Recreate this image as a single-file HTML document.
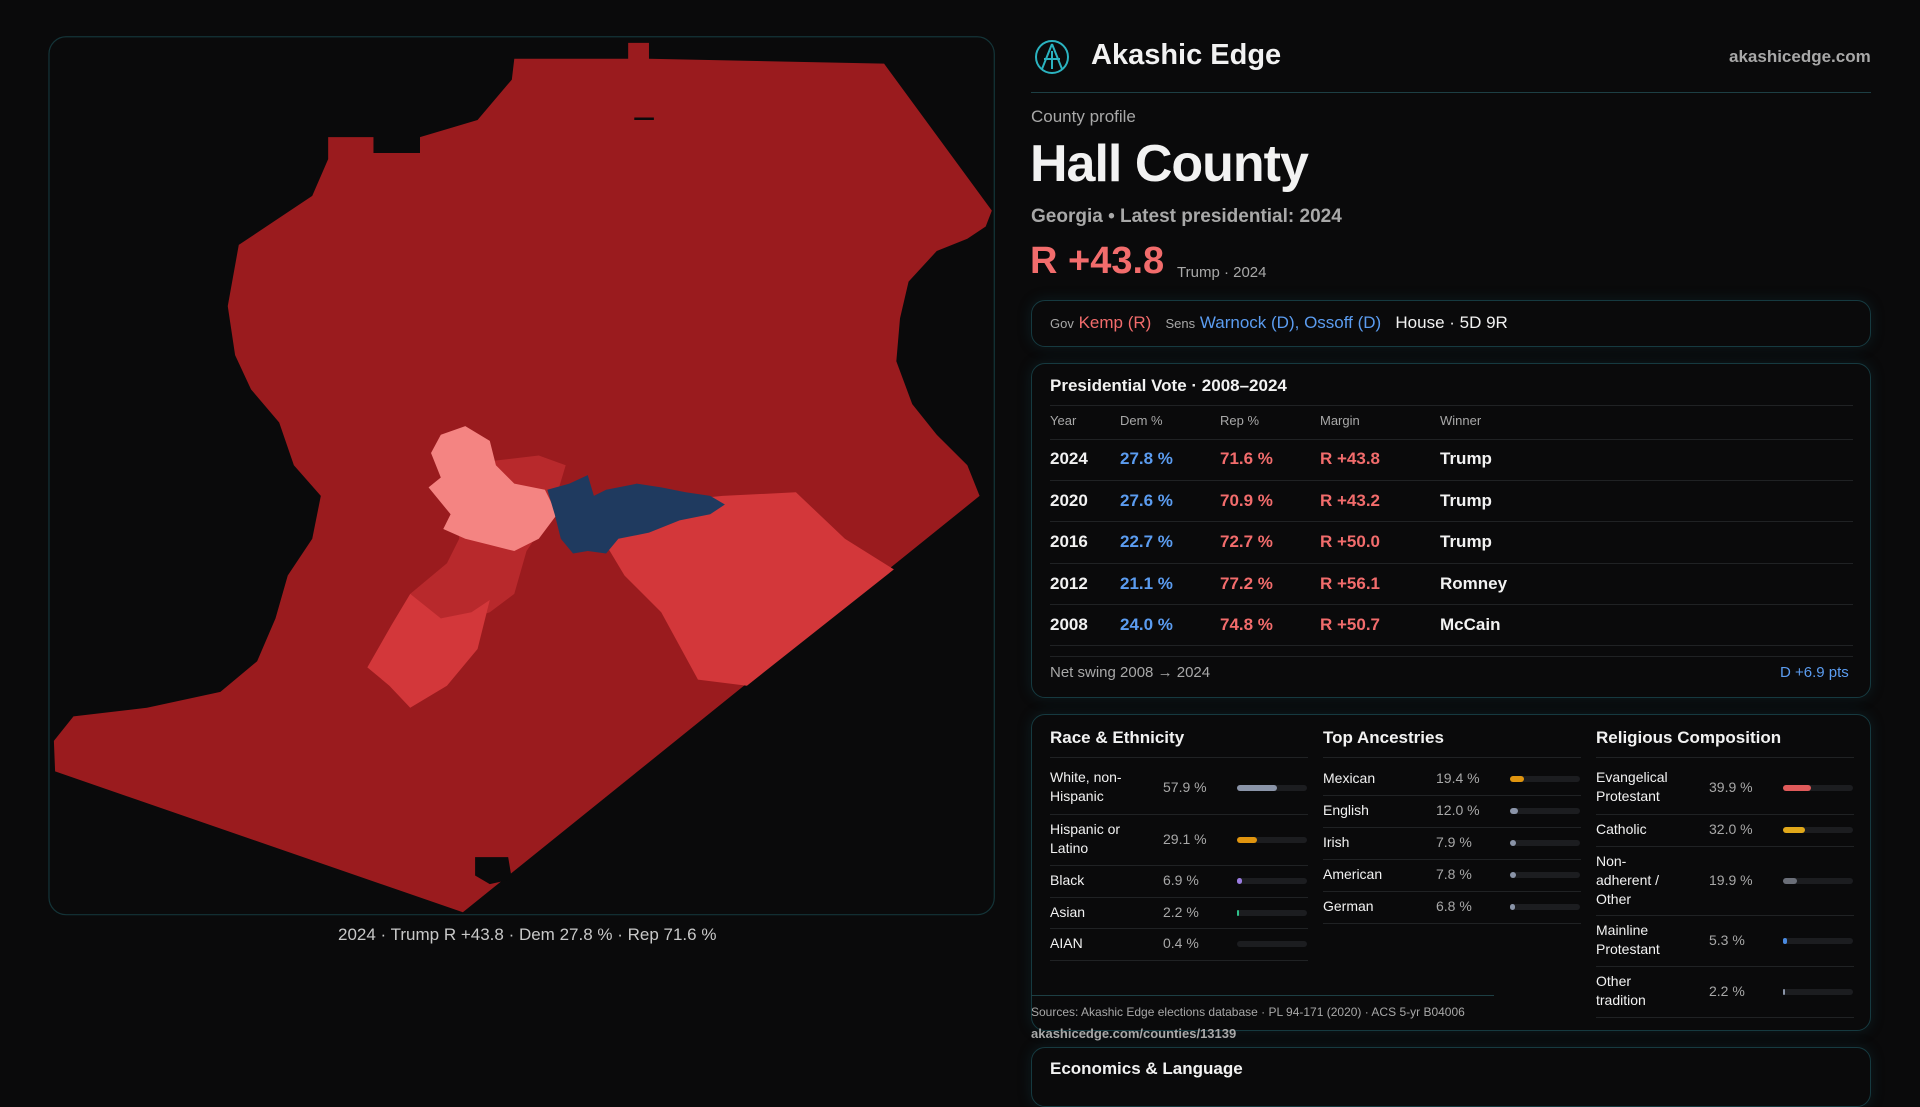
<!DOCTYPE html>
<html><head><meta charset="utf-8"><style>
*{margin:0;padding:0;box-sizing:border-box}
body{width:1920px;height:1080px;background:#0a0a0b;font-family:"Liberation Sans",sans-serif;color:#f2f2f2;position:relative;overflow:hidden}
.a{position:absolute;white-space:nowrap}
.box{position:absolute;border:1px solid #163a40;border-radius:14px;background:#0a0a0b;box-shadow:0 0 14px rgba(20,80,90,0.25)}
.mut{color:#a8a8a8}
.blue{color:#5b9cf0}.red{color:#f26c6c}
.hl{position:absolute;height:1px;background:#202224}
.bar{position:absolute;height:6px;border-radius:3px;background:#1c1d20;width:70px}
.bar i{position:absolute;left:0;top:0;height:6px;border-radius:3px}
</style></head><body>
<svg class="a" style="left:0;top:0" width="1920" height="1080" viewBox="0 0 1568 882">
<rect x="40" y="30" width="772" height="717" rx="14" fill="#0a0a0b" stroke="#143438"/>
<path fill="#9a1b1e" d="M420,48 L513,48 L513,35 L530,35 L530,48 L722,52 L810,172 L805,185 L790,195 L765,205 L742,230 L735,260 L732,295 L745,330 L765,355 L790,380 L800,405 L378,745 L45,630 L44,605 L60,585 L120,578 L180,565 L210,540 L225,505 L235,470 L255,440 L262,405 L240,380 L228,345 L205,318 L192,290 L186,250 L195,200 L225,180 L255,160 L268,130 L268,112 L305,112 L305,125 L343,125 L343,112 L390,98 L418,65 Z"/>
<path fill="#d3373a" d="M495,410 L560,408 L590,405 L650,402 L690,440 L730,465 L610,560 L570,555 L540,500 L510,470 L495,445 Z"/>
<path fill="#b8292c" d="M372,380 L440,372 L462,380 L450,420 L430,450 L420,485 L400,500 L385,505 L345,505 L335,485 L365,460 L375,440 Z"/>
<path fill="#d3373a" d="M335,485 L360,505 L385,500 L400,490 L390,530 L365,560 L335,578 L318,560 L300,545 L320,510 Z"/>
<path fill="#f48482" d="M380,348 L400,360 L405,380 L420,395 L445,400 L455,420 L440,440 L420,450 L400,445 L380,440 L362,432 L368,420 L350,398 L360,390 L352,370 L360,355 Z"/>
<path fill="#1f3a5f" d="M447,400 L465,395 L480,388 L485,405 L495,400 L520,395 L540,398 L560,402 L580,405 L592,412 L580,420 L555,425 L530,435 L505,440 L495,452 L480,450 L468,452 L458,440 L453,420 Z"/>
<path fill="#0a0a0b" d="M388,700 L415,700 L418,718 L400,722 L388,715 Z M518,96 L534,96 L534,98 L518,98 Z"/>
</svg>
<div class="a mut" style="left:338px;top:925px;font-size:17px;color:#c8c8c8">2024 · Trump R +43.8 · Dem 27.8 % · Rep 71.6 %</div>

<svg class="a" style="left:1034px;top:39px" width="36" height="36" viewBox="0 0 36 36"><circle cx="18" cy="18" r="16" fill="none" stroke="#2bb3c0" stroke-width="2"/><path d="M18 5 L8 30 M18 5 L28 30 M10 20 L26 20 M18 12 L18 30" stroke="#2bb3c0" stroke-width="2" fill="none"/></svg>
<div class="a" style="left:1091px;top:39px;font-size:29px;font-weight:bold">Akashic Edge</div>
<div class="a mut" style="left:1729px;top:47px;font-size:17px;font-weight:bold">akashicedge.com</div>
<div class="a" style="left:1031px;top:92px;width:840px;height:1px;background:#1d3f44"></div>
<div class="a mut" style="left:1031px;top:107px;font-size:17px">County profile</div>
<div class="a" style="left:1030px;top:134px;font-size:52px;font-weight:bold;letter-spacing:-1px">Hall County</div>
<div class="a mut" style="left:1031px;top:206px;font-size:19px;font-weight:bold">Georgia • Latest presidential: 2024</div>
<div class="a red" style="left:1030px;top:240px;font-size:38px;font-weight:bold">R +43.8</div>
<div class="a mut" style="left:1177px;top:264px;font-size:15px">Trump · 2024</div>

<div class="box" style="left:1031px;top:300px;width:840px;height:47px"></div>
<div class="a" style="left:1050px;top:313px;font-size:17px"><span class="mut" style="font-size:13px">Gov</span> <span class="red">Kemp (R)</span> &nbsp; <span class="mut" style="font-size:13px">Sens</span> <span class="blue">Warnock (D), Ossoff (D)</span> &nbsp; <span>House · 5D 9R</span></div>

<div class="box" style="left:1031px;top:363px;width:840px;height:335px"></div>
<div class="a" style="left:1050px;top:376px;font-size:17px;font-weight:bold">Presidential Vote · 2008–2024</div>
<div class="hl" style="left:1050px;top:405px;width:803px"></div>
<div class="a mut" style="left:1050px;top:413px;font-size:13px">Year</div>
<div class="a mut" style="left:1120px;top:413px;font-size:13px">Dem %</div>
<div class="a mut" style="left:1220px;top:413px;font-size:13px">Rep %</div>
<div class="a mut" style="left:1320px;top:413px;font-size:13px">Margin</div>
<div class="a mut" style="left:1440px;top:413px;font-size:13px">Winner</div>
<div class="hl" style="left:1050px;top:439px;width:803px"></div>
<div class="a" style="left:1050px;top:448px;font-size:17px;line-height:22px">
<div style="position:absolute;top:0"><b style="position:absolute;left:0">2024</b><b class="blue" style="position:absolute;left:70px">27.8 %</b><b class="red" style="position:absolute;left:170px">71.6 %</b><b class="red" style="position:absolute;left:270px">R +43.8</b><b style="position:absolute;left:390px">Trump</b></div>
<div style="position:absolute;top:42px"><b style="position:absolute;left:0">2020</b><b class="blue" style="position:absolute;left:70px">27.6 %</b><b class="red" style="position:absolute;left:170px">70.9 %</b><b class="red" style="position:absolute;left:270px">R +43.2</b><b style="position:absolute;left:390px">Trump</b></div>
<div style="position:absolute;top:83px"><b style="position:absolute;left:0">2016</b><b class="blue" style="position:absolute;left:70px">22.7 %</b><b class="red" style="position:absolute;left:170px">72.7 %</b><b class="red" style="position:absolute;left:270px">R +50.0</b><b style="position:absolute;left:390px">Trump</b></div>
<div style="position:absolute;top:125px"><b style="position:absolute;left:0">2012</b><b class="blue" style="position:absolute;left:70px">21.1 %</b><b class="red" style="position:absolute;left:170px">77.2 %</b><b class="red" style="position:absolute;left:270px">R +56.1</b><b style="position:absolute;left:390px">Romney</b></div>
<div style="position:absolute;top:166px"><b style="position:absolute;left:0">2008</b><b class="blue" style="position:absolute;left:70px">24.0 %</b><b class="red" style="position:absolute;left:170px">74.8 %</b><b class="red" style="position:absolute;left:270px">R +50.7</b><b style="position:absolute;left:390px">McCain</b></div>
</div>
<div class="hl" style="left:1050px;top:480px;width:803px"></div>
<div class="hl" style="left:1050px;top:521px;width:803px"></div>
<div class="hl" style="left:1050px;top:563px;width:803px"></div>
<div class="hl" style="left:1050px;top:604px;width:803px"></div>
<div class="hl" style="left:1050px;top:645px;width:803px"></div>
<div class="hl" style="left:1050px;top:656px;width:803px"></div>
<div class="a mut" style="left:1050px;top:664px;font-size:15px">Net swing 2008 → 2024</div>
<div class="a blue" style="left:1780px;top:664px;font-size:15px">D +6.9 pts</div>

<div class="box" style="left:1031px;top:714px;width:840px;height:317px"></div>
<div class="box" style="left:1031px;top:1047px;width:840px;height:60px"></div>
<div class="a" style="left:1050px;top:1059px;font-size:17px;font-weight:bold">Economics &amp; Language</div>

<div class="a" style="left:1050px;top:728px;font-size:17px;font-weight:bold">Race &amp; Ethnicity</div>
<div class="a" style="left:1323px;top:728px;font-size:17px;font-weight:bold">Top Ancestries</div>
<div class="a" style="left:1596px;top:728px;font-size:17px;font-weight:bold">Religious Composition</div>
<div class="hl" style="left:1050px;top:757px;width:258px"></div>
<div class="hl" style="left:1323px;top:757px;width:258px"></div>
<div class="hl" style="left:1596px;top:757px;width:258px"></div>

<div style="position:absolute;left:0;top:0;font-size:14px;line-height:19px">
<div class="a" style="left:1050px;top:768px">White, non-<br>Hispanic</div><div class="a mut" style="left:1163px;top:778px">57.9 %</div><div class="bar" style="left:1237px;top:785px"><i style="width:40px;background:#8a94a8"></i></div>
<div class="hl" style="left:1050px;top:814px;width:258px"></div>
<div class="a" style="left:1050px;top:820px">Hispanic or<br>Latino</div><div class="a mut" style="left:1163px;top:830px">29.1 %</div><div class="bar" style="left:1237px;top:837px"><i style="width:20px;background:#e0950f"></i></div>
<div class="hl" style="left:1050px;top:865px;width:258px"></div>
<div class="a" style="left:1050px;top:871px">Black</div><div class="a mut" style="left:1163px;top:871px">6.9 %</div><div class="bar" style="left:1237px;top:878px"><i style="width:5px;background:#9a7ce0"></i></div>
<div class="hl" style="left:1050px;top:897px;width:258px"></div>
<div class="a" style="left:1050px;top:903px">Asian</div><div class="a mut" style="left:1163px;top:903px">2.2 %</div><div class="bar" style="left:1237px;top:910px"><i style="width:2px;background:#2fc08a"></i></div>
<div class="hl" style="left:1050px;top:928px;width:258px"></div>
<div class="a" style="left:1050px;top:934px">AIAN</div><div class="a mut" style="left:1163px;top:934px">0.4 %</div><div class="bar" style="left:1237px;top:941px"></div>
<div class="hl" style="left:1050px;top:960px;width:258px"></div>

<div class="a" style="left:1323px;top:769px">Mexican</div><div class="a mut" style="left:1436px;top:769px">19.4 %</div><div class="bar" style="left:1510px;top:776px"><i style="width:14px;background:#e0950f"></i></div>
<div class="hl" style="left:1323px;top:795px;width:258px"></div>
<div class="a" style="left:1323px;top:801px">English</div><div class="a mut" style="left:1436px;top:801px">12.0 %</div><div class="bar" style="left:1510px;top:808px"><i style="width:8px;background:#8a94a8"></i></div>
<div class="hl" style="left:1323px;top:827px;width:258px"></div>
<div class="a" style="left:1323px;top:833px">Irish</div><div class="a mut" style="left:1436px;top:833px">7.9 %</div><div class="bar" style="left:1510px;top:840px"><i style="width:6px;background:#8a94a8"></i></div>
<div class="hl" style="left:1323px;top:859px;width:258px"></div>
<div class="a" style="left:1323px;top:865px">American</div><div class="a mut" style="left:1436px;top:865px">7.8 %</div><div class="bar" style="left:1510px;top:872px"><i style="width:6px;background:#8a94a8"></i></div>
<div class="hl" style="left:1323px;top:891px;width:258px"></div>
<div class="a" style="left:1323px;top:897px">German</div><div class="a mut" style="left:1436px;top:897px">6.8 %</div><div class="bar" style="left:1510px;top:904px"><i style="width:5px;background:#8a94a8"></i></div>
<div class="hl" style="left:1323px;top:923px;width:258px"></div>

<div class="a" style="left:1596px;top:768px">Evangelical<br>Protestant</div><div class="a mut" style="left:1709px;top:778px">39.9 %</div><div class="bar" style="left:1783px;top:785px"><i style="width:28px;background:#e05a5a"></i></div>
<div class="hl" style="left:1596px;top:814px;width:258px"></div>
<div class="a" style="left:1596px;top:820px">Catholic</div><div class="a mut" style="left:1709px;top:820px">32.0 %</div><div class="bar" style="left:1783px;top:827px"><i style="width:22px;background:#e0a81a"></i></div>
<div class="hl" style="left:1596px;top:846px;width:258px"></div>
<div class="a" style="left:1596px;top:852px">Non-<br>adherent /<br>Other</div><div class="a mut" style="left:1709px;top:871px">19.9 %</div><div class="bar" style="left:1783px;top:878px"><i style="width:14px;background:#6a6e78"></i></div>
<div class="hl" style="left:1596px;top:915px;width:258px"></div>
<div class="a" style="left:1596px;top:921px">Mainline<br>Protestant</div><div class="a mut" style="left:1709px;top:931px">5.3 %</div><div class="bar" style="left:1783px;top:938px"><i style="width:4px;background:#4a8ae0"></i></div>
<div class="hl" style="left:1596px;top:966px;width:258px"></div>
<div class="a" style="left:1596px;top:972px">Other<br>tradition</div><div class="a mut" style="left:1709px;top:982px">2.2 %</div><div class="bar" style="left:1783px;top:989px"><i style="width:2px;background:#8a94a8"></i></div>
<div class="hl" style="left:1596px;top:1017px;width:258px"></div>
</div>
<div class="a" style="left:1031px;top:995px;width:463px;height:1px;background:#1d3f44"></div>
<div class="a mut" style="left:1031px;top:1005px;font-size:12px">Sources: Akashic Edge elections database · PL 94-171 (2020) · ACS 5-yr B04006</div>
<div class="a mut" style="left:1031px;top:1026px;font-size:13px;font-weight:bold">akashicedge.com/counties/13139</div>
</body></html>
